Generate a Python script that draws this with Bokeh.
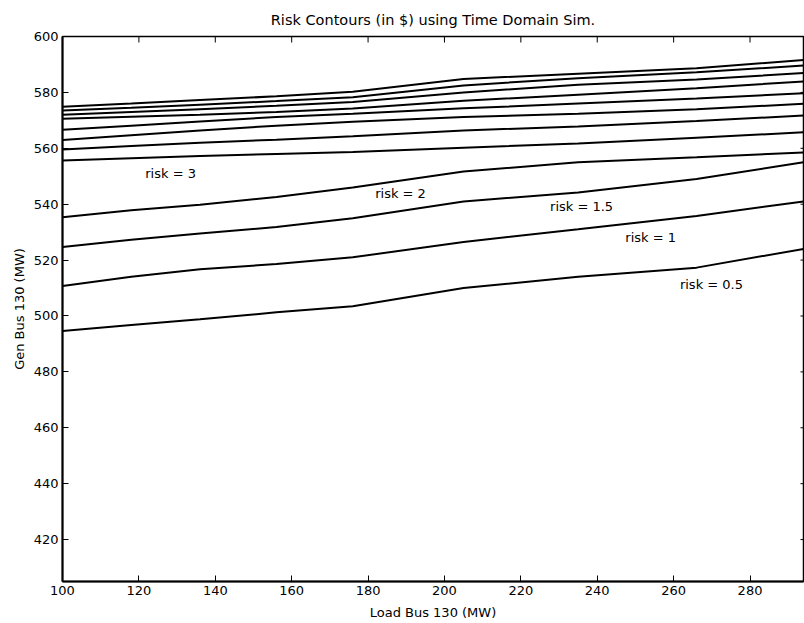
import math
from bokeh.plotting import figure
from bokeh.models import FixedTicker, Range1d
from bokeh.core.properties import value
from bokeh.embed import file_html
from bokeh.resources import INLINE

# ---- data ----
load_mw = [100, 118, 136, 156, 176, 205, 235, 266, 294]

risk_0_5 = [494.6, 496.8, 498.8, 501.3, 503.5, 510.0, 514.0, 517.3, 524.0]
risk_1   = [510.7, 514.0, 516.7, 518.6, 521.0, 526.5, 531.0, 535.8, 541.0]
risk_1_5 = [524.7, 527.3, 529.5, 531.8, 535.0, 541.0, 544.2, 549.0, 555.0]
risk_2   = [535.3, 537.8, 539.8, 542.6, 546.0, 551.7, 555.0, 556.8, 558.5]
risk_3   = [555.6, 556.4, 557.2, 558.0, 558.7, 560.2, 561.7, 563.8, 565.7]
risk_3_5 = [559.6, 560.8, 562.0, 563.1, 564.3, 566.4, 567.8, 569.8, 571.7]
risk_4   = [563.0, 564.7, 566.4, 568.1, 569.5, 571.2, 572.4, 574.0, 575.9]
risk_4_5 = [566.6, 568.1, 569.6, 571.2, 572.4, 574.3, 576.0, 577.8, 579.7]
risk_5   = [570.6, 571.3, 572.0, 573.0, 574.2, 577.0, 579.2, 581.5, 583.9]
risk_5_5 = [572.0, 573.0, 574.0, 575.2, 576.6, 580.0, 582.7, 584.6, 586.9]
risk_6   = [573.5, 574.5, 575.6, 576.9, 578.3, 582.5, 585.1, 587.2, 589.6]
risk_6_5 = [574.9, 576.0, 577.3, 578.6, 580.2, 584.8, 586.7, 588.6, 591.6]

contours = [risk_0_5, risk_1, risk_1_5, risk_2, risk_3, risk_3_5,
            risk_4, risk_4_5, risk_5, risk_5_5, risk_6, risk_6_5]

label_text = ["risk = 3", "risk = 2", "risk = 1.5", "risk = 1", "risk = 0.5"]
label_x = [128.3, 188.5, 235.9, 254.0, 269.9]
label_y = [550.9, 543.8, 539.1, 528.1, 511.1]

x_ticks = [100, 120, 140, 160, 180, 200, 220, 240, 260, 280]
y_ticks = [420, 440, 460, 480, 500, 520, 540, 560, 580, 600]

x_min, x_max = 100, 294
y_min, y_max = 405, 600

# ---- figure ----
FONT = "DejaVu Sans"
p = figure(width=804, height=623,
           x_range=Range1d(x_min, x_max), y_range=Range1d(y_min, y_max),
           output_backend="svg", toolbar_location=None,
           min_border_left=62, min_border_right=1,
           min_border_top=36, min_border_bottom=42,
           background_fill_color="white", border_fill_color="white")

p.title.text = "Risk Contours (in $) using Time Domain Sim."
p.title.align = "center"
p.title.text_font = FONT
p.title.text_font_size = "14.5px"
p.title.text_font_style = "normal"
p.title.text_color = "black"
p.title.standoff = 17

p.xgrid.visible = False
p.ygrid.visible = False
p.outline_line_color = "black"
p.outline_line_width = 1.5

for ax, ticks in ((p.xaxis[0], x_ticks), (p.yaxis[0], y_ticks)):
    ax.ticker = FixedTicker(ticks=ticks)
    ax.major_tick_in = 6
    ax.major_tick_out = 0
    ax.minor_tick_line_color = None
    ax.axis_line_color = "black"
    ax.axis_line_width = 2
    ax.major_tick_line_color = "black"
    ax.major_tick_line_width = 1
    ax.major_label_text_font = FONT
    ax.major_label_text_font_size = "13px"
    ax.major_label_text_color = "black"
    ax.major_label_text_line_height = 1.0
    ax.major_label_standoff = 4
    ax.axis_label_text_font = FONT
    ax.axis_label_text_font_size = "13px"
    ax.axis_label_text_font_style = "normal"
    ax.axis_label_text_color = "black"
    ax.axis_label_text_line_height = 1.0

p.xaxis.axis_label = "Load Bus 130 (MW)"
p.yaxis.axis_label = "Gen Bus 130 (MW)"
p.xaxis.axis_label_standoff = 7
p.yaxis.axis_label_standoff = 4

# inward tick marks on the top and right edges of the box (clipped to the frame)
p.scatter(x=x_ticks, y=[y_max] * len(x_ticks), marker="dash", size=12,
          angle=math.pi / 2, line_color="black", line_width=1)
p.scatter(x=[x_max] * len(y_ticks), y=y_ticks, marker="dash", size=6,
          line_color="black", line_width=1)

for ys in contours:
    p.line(load_mw, ys, line_color="black", line_width=2)

p.text(x=label_x, y=label_y, text=label_text,
       text_font=value(FONT), text_font_size=value("13px"),
       text_color="black", text_align="center", text_baseline="middle")

open("out.html", "w").write(file_html(p, INLINE))
